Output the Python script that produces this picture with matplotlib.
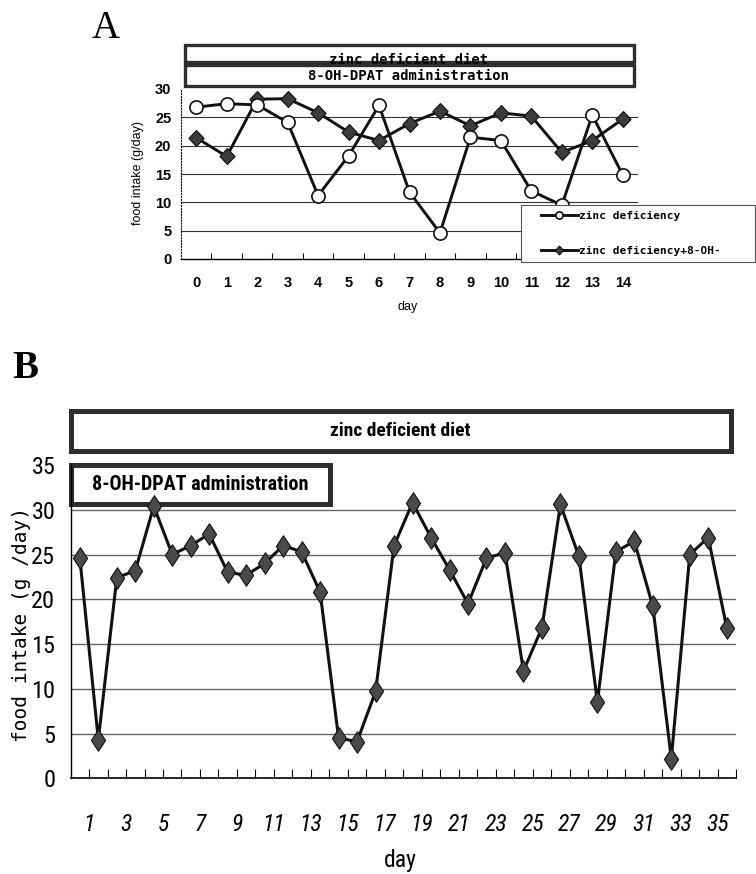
import numpy as np
import matplotlib
matplotlib.use("Agg")
import matplotlib.pyplot as plt
from matplotlib import font_manager
from matplotlib.patches import Rectangle
from matplotlib.path import Path
from matplotlib.ticker import FixedLocator

# ── data ─────────────────────────────────────────────────────────────────────
days_a = np.arange(0, 15)
zinc_def = [26.8, 27.4, 27.2, 24.1, 11.2, 18.2, 27.1, 11.8, 4.6, 21.5,
            20.9, 12.0, 9.5, 25.4, 14.8]
zinc_dpat = [21.4, 18.1, 28.2, 28.3, 25.8, 22.4, 20.9, 23.9, 26.1, 23.5,
             25.8, 25.2, 18.8, 20.9, 24.7]
legend_a = ["zinc deficiency", "zinc deficiency+8-OH-"]

days_b = np.arange(1, 37)
intake_b = [24.6, 4.3, 22.4, 23.2, 30.4, 25.0, 26.0, 27.3, 23.0, 22.7,
            24.0, 26.0, 25.3, 20.8, 4.5, 4.1, 9.7, 26.0, 30.8, 26.9,
            23.3, 19.5, 24.6, 25.2, 12.0, 16.8, 30.6, 24.8, 8.5, 25.3,
            26.5, 19.2, 2.2, 25.0, 26.9, 16.8]
b_ticklabels = [str(d) for d in range(1, 36, 2)]

W, H = 756, 874
MONO = "DejaVu Sans Mono"

# panel B uses a condensed face if one is around, Arial-like otherwise
installed = {f.name for f in font_manager.fontManager.ttflist}
if "Liberation Sans Narrow" in installed:
    NARROW, shrink = "Liberation Sans Narrow", 1.0
elif "Roboto Condensed" in installed:
    NARROW, shrink = "Roboto Condensed", 1.0
else:
    NARROW, shrink = "Liberation Sans", 0.8


def px_axes(left, top, right, bottom):
    return [left / W, 1 - bottom / H, (right - left) / W, (bottom - top) / H]


fig = plt.figure(figsize=(W / 100, H / 100), dpi=100)

# overlay in pixel coordinates for the boxes / labels
over = fig.add_axes([0, 0, 1, 1], zorder=0)
over.set_xlim(0, W)
over.set_ylim(H, 0)
over.axis("off")


def box(x0, y0, x1, y1, lw, z=2):
    over.add_patch(Rectangle((x0, y0), x1 - x0, y1 - y0, facecolor="white",
                             edgecolor="#2e2e2e", linewidth=lw, zorder=z))


# ── panel A ──────────────────────────────────────────────────────────────────
over.text(106, 28, "A", family="Liberation Serif", fontsize=28,
          ha="center", va="center")
box(184.5, 44.5, 633.5, 62, 2.4, z=2)
over.text(409, 64, "zinc deficient diet", family=MONO, fontweight="bold",
          fontsize=10, ha="center", va="baseline", zorder=3)
box(184.5, 64.5, 633.5, 86, 2.4, z=4)
over.text(409, 75.5, "8-OH-DPAT administration", family=MONO,
          fontweight="bold", fontsize=10, ha="center", va="center", zorder=5)

ax_a = fig.add_axes(px_axes(181, 89, 638, 259), zorder=1)
ax_a.set_facecolor("none")
diamond_a = Path([(0, 1), (0.95, 0), (0, -1), (-0.95, 0), (0, 1)],
                 [Path.MOVETO, Path.LINETO, Path.LINETO, Path.LINETO,
                  Path.CLOSEPOLY])
l1, = ax_a.plot(days_a, zinc_def, color="#111", lw=2.1, marker="o",
                markersize=9.5, markerfacecolor="white",
                markeredgecolor="#111", markeredgewidth=1.2, zorder=4)
l2, = ax_a.plot(days_a, zinc_dpat, color="#111", lw=2.1, marker=diamond_a,
                markersize=11.5, markerfacecolor="#3c3c3c",
                markeredgecolor="#111", markeredgewidth=0.8, zorder=3)
ax_a.set_xlim(-0.5, 14.5)
ax_a.set_ylim(0, 30)
ax_a.set_yticks(np.arange(0, 31, 5))
ax_a.set_xticks(days_a)
ax_a.xaxis.set_minor_locator(FixedLocator(np.arange(0.5, 14, 1)))
ax_a.tick_params(axis="x", which="major", length=0, pad=12)
ax_a.tick_params(axis="x", which="minor", length=4.3, direction="in",
                 width=0.8)
ax_a.tick_params(axis="y", length=0, pad=7)
for lab in ax_a.get_xticklabels() + ax_a.get_yticklabels():
    lab.set_family("Liberation Sans")
    lab.set_fontweight("bold")
    lab.set_fontsize(10.5)
for y in range(5, 30, 5):
    ax_a.axhline(y, color="#333", lw=0.8, zorder=1)
for s in ("top", "right"):
    ax_a.spines[s].set_visible(False)
ax_a.spines["left"].set_linestyle(":")
ax_a.spines["left"].set_linewidth(0.8)
ax_a.spines["bottom"].set_linewidth(1.0)

over.text(138, 173, "food intake (g/day)", family="Liberation Sans",
          fontsize=9, rotation=90, ha="center", va="center")
over.text(408, 307, "day", family="Liberation Sans", fontsize=9,
          ha="center", va="center")

# legend frame drawn separately so the entries can sit further right
fig.add_artist(Rectangle((521 / W, 1 - 262 / H), 234 / W, 57 / H,
                         transform=fig.transFigure, facecolor="white",
                         edgecolor="#555", linewidth=0.8, zorder=3))
fig.legend([l1, l2], legend_a, loc="upper left",
           bbox_to_anchor=(541 / W, 1 - 211 / H), borderaxespad=0,
           borderpad=0, frameon=False,
           prop={"family": MONO, "weight": "bold", "size": 8},
           markerscale=0.55, handlelength=3.3, handletextpad=0.1,
           labelspacing=2.2)

# ── panel B ──────────────────────────────────────────────────────────────────
over.text(25, 369, "B", family="Liberation Serif", fontweight="bold",
          fontsize=28, ha="center", va="center")
box(70.5, 410.5, 731, 451, 3.6)
over.text(400, 431, "zinc deficient diet", family=NARROW, fontweight="bold",
          fontsize=14 * shrink, ha="center", va="center", zorder=5)
box(70.5, 464.5, 330, 504, 3.6)
over.text(200, 485, "8-OH-DPAT administration", family=NARROW,
          fontweight="bold", fontsize=14.5 * shrink, ha="center",
          va="center", zorder=5)

ax_b = fig.add_axes(px_axes(70.6, 465, 736, 778.3), zorder=1)
ax_b.set_facecolor("none")
diamond_b = Path([(0, 1), (0.66, 0), (0, -1), (-0.66, 0), (0, 1)],
                 [Path.MOVETO, Path.LINETO, Path.LINETO, Path.LINETO,
                  Path.CLOSEPOLY])
ax_b.plot(days_b - 0.5, intake_b, color="#111", lw=2.2, marker=diamond_b,
          markersize=15.5, markerfacecolor="#4a4a4a", markeredgecolor="#111",
          markeredgewidth=0.8, zorder=3)
ax_b.set_xlim(0, 36)
ax_b.set_ylim(0, 35)
ax_b.set_yticks(np.arange(0, 36, 5))
ax_b.set_xticks(np.arange(1, 36, 2))
ax_b.set_xticklabels(b_ticklabels)
ax_b.xaxis.set_minor_locator(FixedLocator(np.arange(2, 37, 2)))
ax_b.tick_params(axis="x", which="both", length=6.5, direction="in",
                 width=0.8, pad=25)
ax_b.tick_params(axis="y", length=0, pad=11)
for lab in ax_b.get_xticklabels():
    lab.set_family(NARROW)
    lab.set_style("italic")
    lab.set_fontsize(17 * shrink)
for lab in ax_b.get_yticklabels():
    lab.set_family(NARROW)
    lab.set_fontsize(17.5 * shrink)
for y in range(5, 35, 5):
    ax_b.axhline(y, color="#666", lw=1.0, zorder=1)
for s in ("top", "right"):
    ax_b.spines[s].set_visible(False)
ax_b.spines["left"].set_linewidth(1.0)
ax_b.spines["bottom"].set_linewidth(1.2)

over.text(22, 625, "food intake (g /day)", family=MONO, fontsize=14,
          rotation=90, ha="center", va="center")
over.text(400, 861, "day", family=NARROW, fontsize=17 * shrink,
          ha="center", va="center")

fig.savefig("out.png", dpi=100, facecolor="white")
